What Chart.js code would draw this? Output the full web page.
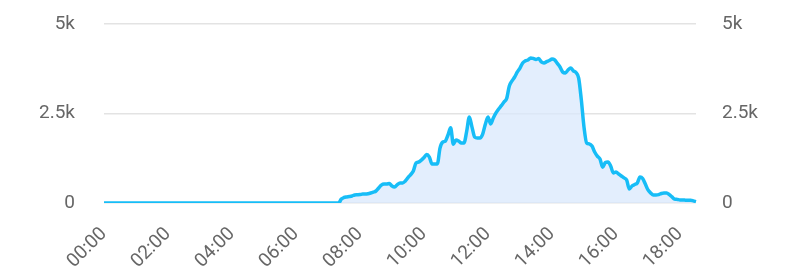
<!DOCTYPE html>
<html>
<head>
<meta charset="utf-8">
<script src="https://cdn.jsdelivr.net/npm/chart.js@4"></script>
<style>
  html, body { margin: 0; padding: 0; background: #fff; }
  #wrap { width: 800px; height: 276px; }
</style>
</head>
<body>
<div id="wrap"><canvas id="myChart"></canvas></div>
<script>
// Horas del eje X (cada 5 minutos, de 00:00 a 18:30)
var horas = [];
for (var h = 0; h <= 18; h++) {
    for (var m = 0; m < 60; m += 5) {
        horas.push((h < 10 ? '0' : '') + h + ':' + (m < 10 ? '0' : '') + m);
    }
}
horas = horas.slice(0, 223);

// Valores
var valores = [
    0, 0, 0, 0, 0, 0, 0, 0, 0, 0, 0, 0,
    0, 0, 0, 0, 0, 0, 0, 0, 0, 0, 0, 0,
    0, 0, 0, 0, 0, 0, 0, 0, 0, 0, 0, 0,
    0, 0, 0, 0, 0, 0, 0, 0, 0, 0, 0, 0,
    0, 0, 0, 0, 0, 0, 0, 0, 0, 0, 0, 0,
    0, 0, 0, 0, 0, 0, 0, 0, 0, 0, 0, 0,
    0, 0, 0, 0, 0, 0, 0, 0, 0, 0, 0, 0,
    0, 0, 0, 0, 0, 110, 155, 170, 180, 195, 225, 230,
    235, 250, 250, 260, 280, 305, 335, 420, 500, 530, 530, 545,
    475, 450, 515, 560, 560, 615, 710, 795, 895, 1120, 1145, 1200,
    1270, 1355, 1285, 1090, 1090, 1090, 1535, 1700, 1730, 1900, 2100, 1640,
    1760, 1730, 1675, 1675, 2000, 2400, 2120, 1840, 1815, 1815, 1925, 2200,
    2400, 2210, 2375, 2515, 2625, 2720, 2820, 2920, 3270, 3410, 3520, 3660,
    3770, 3910, 3970, 3995, 4050, 4035, 4010, 4035, 3940, 3910, 3950, 3980,
    4020, 3995, 3900, 3800, 3660, 3630, 3715, 3770, 3690, 3645, 3490, 2880,
    2120, 1675, 1650, 1590, 1425, 1310, 1230, 1000, 1130, 1145, 1035, 840,
    865, 810, 755, 700, 645, 390, 475, 515, 560, 725, 685, 530,
    365, 280, 225, 225, 235, 265, 280, 280, 235, 170, 110, 100,
    85, 85, 80, 75, 75, 60, 40
];

// Marcas del eje Y
var marcasY = [0, 2500, 5000];
var etiquetasY = { 0: '0', 2500: '2.5k', 5000: '5k' };

var fuente = { family: 'Roboto', size: 19 };

// El hueco entre etiqueta y gráfico se hace con una marca invisible
function ejeY(posicion, hueco, colorGrid) {
    return {
        position: posicion,
        min: marcasY[0],
        max: marcasY[marcasY.length - 1],
        border: { display: false },
        grid: { color: colorGrid, lineWidth: 1.5, drawTicks: true, tickLength: hueco, tickColor: 'rgba(0,0,0,0)' },
        ticks: {
            stepSize: 2500,
            padding: 0,
            color: '#666',
            font: fuente,
            callback: function(v) { return etiquetasY[v]; }
        },
        afterFit: function(scale) { scale.width = 104; }
    };
}

var ctx = document.getElementById('myChart').getContext('2d');
var myChart = new Chart(ctx, {
    type: 'line',
    data: {
        labels: horas,
        datasets: [{
            data: valores,
            borderColor: '#17bdf7',
            backgroundColor: 'rgba(218, 232, 252, 0.75)',
            borderWidth: 3.5,
            fill: true,
            pointRadius: 0,
            tension: 0.4,
            cubicInterpolationMode: 'monotone'
        }]
    },
    options: {
        responsive: true,
        maintainAspectRatio: false,
        animation: false,
        layout: { padding: { top: 24, left: 0, right: 0, bottom: 0 } },
        plugins: { legend: { display: false }, tooltip: { enabled: false } },
        scales: {
            x: {
                grid: { display: false, drawTicks: false },
                border: { display: false },
                ticks: {
                    autoSkip: false,
                    minRotation: 45,
                    maxRotation: 45,
                    padding: 20,
                    color: '#666',
                    font: fuente,
                    callback: function(v, i) {
                        var l = horas[i];
                        var hh = parseInt(l.slice(0, 2), 10);
                        return (l.slice(3) === '00' && hh % 2 === 0) ? l : null;
                    }
                },
                afterFit: function(scale) { scale.height = 73; }
            },
            y: ejeY('left', 29, '#e3e3e3'),
            y1: ejeY('right', 26, 'rgba(0,0,0,0)')
        }
    }
});
</script>
</body>
</html>
